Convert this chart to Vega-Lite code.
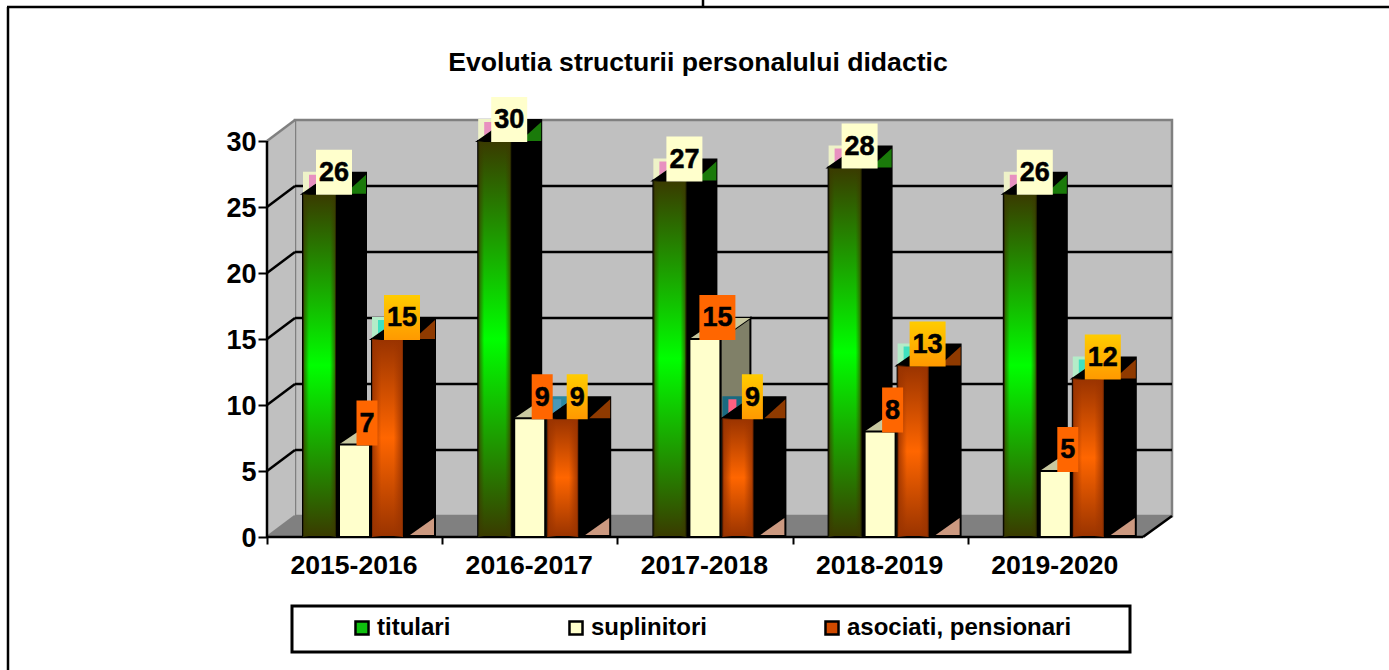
{
"$schema":"https://vega.github.io/schema/vega-lite/v6.json",
"width":1389,"height":670,"padding":0,"autosize":{"type":"none"},"background":"white",
"title":{"text":"Evolutia structurii personalului didactic","font":"Liberation Sans","fontSize":26.6,"fontWeight":"bold","color":"black","anchor":"middle","offset":-99,"dx":3.5,"baseline":"alphabetic"},
"config":{"view":{"stroke":null},"font":"Liberation Sans"},
"datasets":{"bars":[
{"season":"2015-2016","series":"titulari","value":26},{"season":"2015-2016","series":"suplinitori","value":7},{"season":"2015-2016","series":"asociati, pensionari","value":15},
{"season":"2016-2017","series":"titulari","value":30},{"season":"2016-2017","series":"suplinitori","value":9},{"season":"2016-2017","series":"asociati, pensionari","value":9},
{"season":"2017-2018","series":"titulari","value":27},{"season":"2017-2018","series":"suplinitori","value":15},{"season":"2017-2018","series":"asociati, pensionari","value":9},
{"season":"2018-2019","series":"titulari","value":28},{"season":"2018-2019","series":"suplinitori","value":8},{"season":"2018-2019","series":"asociati, pensionari","value":13},
{"season":"2019-2020","series":"titulari","value":26},{"season":"2019-2020","series":"suplinitori","value":5},{"season":"2019-2020","series":"asociati, pensionari","value":12}
]},
"data":{"name":"bars"},
"transform":[
{"calculate":"indexof(['2015-2016','2016-2017','2017-2018','2018-2019','2019-2020'],datum.season)","as":"i"},
{"calculate":"indexof(['titulari','suplinitori','asociati, pensionari'],datum.series)","as":"s"},
{"calculate":"[36,72,105][datum.s]","as":"b"},
{"calculate":"[33,31,31][datum.s]","as":"w"}
],
"encoding":{
"x":{"field":"px","type":"quantitative","scale":{"domain":[-1.52397,6.40411],"nice":false,"zero":false},
 "axis":{"values":[0,1,2,3,4],"orient":"bottom","offset":-133,"title":null,"grid":false,"domain":false,"tickColor":"black","tickWidth":2,"tickSize":7,"labelOffset":86.5,"labelExpr":"['2015-2016','2016-2017','2017-2018','2018-2019','2019-2020'][datum.value]","labelFont":"Liberation Sans","labelFontWeight":"bold","labelFontSize":26.6,"labelColor":"black","labelPadding":8,"labelFlush":false,"labelOverlap":false,"labelBound":false}},
"y":{"field":"py","type":"quantitative","stack":null,"scale":{"domain":[-10.0758,40.6818],"nice":false,"zero":false},
 "axis":{"values":[0,5,10,15,20,25,30],"orient":"left","offset":-267,"title":null,"grid":false,"domain":false,"tickColor":"black","tickWidth":2,"tickSize":9,"labelFont":"Liberation Sans","labelFontWeight":"bold","labelFontSize":27,"labelColor":"black","labelPadding":2,"labelOffset":1.5,"labelOverlap":false,"labelBound":false}}
},
"layer":[
{"data":{"values":[{"a":0},{"a":1},{"a":2}]},"transform":[
 {"calculate":"([7,8,703][datum.a]-267)/175.2","as":"px"},{"calculate":"([1389,8,703][datum.a]-267)/175.2","as":"px2"},
 {"calculate":"(537-[7,7,0][datum.a])/13.2","as":"py"},{"calculate":"(537-[7,670,7][datum.a])/13.2","as":"py2"}],
 "mark":{"type":"rule","color":"black","strokeWidth":2.5},"encoding":{"x2":{"field":"px2"},"y2":{"field":"py2"}}},
{"data":{"values":[{"wall":"back"}]},"transform":[
 {"calculate":"28/175.2","as":"px"},{"calculate":"905/175.2","as":"px2"},{"calculate":"21/13.2","as":"py"},{"calculate":"417/13.2","as":"py2"}],
 "mark":{"type":"rect","fill":"#c0c0c0","stroke":"#808080","strokeWidth":2.5},"encoding":{"x2":{"field":"px2"},"y2":{"field":"py2"}}},
{"data":{"values":[{"k":0},{"k":1}]},"transform":[
 {"calculate":"[0,28][datum.k]/175.2","as":"px"},{"calculate":"[396,417][datum.k]/13.2","as":"py"},{"calculate":"[0,21][datum.k]/13.2","as":"py2"}],
 "mark":{"type":"area","orient":"vertical","color":"#c0c0c0"},"encoding":{"y2":{"field":"py2"}}},
{"data":{"values":[{"k":0},{"k":1},{"k":2},{"k":3}]},"transform":[
 {"calculate":"[0,28,876,905][datum.k]/175.2","as":"px"},{"calculate":"[0,21,21,21][datum.k]/13.2","as":"py"},{"calculate":"[0,0,0,21][datum.k]/13.2","as":"py2"}],
 "mark":{"type":"area","orient":"vertical","color":"#808080"},"encoding":{"y2":{"field":"py2"}}},
{"data":{"values":[{"tick":5},{"tick":10},{"tick":15},{"tick":20},{"tick":25}]},"transform":[
 {"calculate":"28/175.2","as":"px"},{"calculate":"905/175.2","as":"px2"},{"calculate":"datum.tick+21/13.2","as":"py"},{"calculate":"datum.tick+21/13.2","as":"py2"}],
 "mark":{"type":"rule","color":"black","strokeWidth":2.5},"encoding":{"x2":{"field":"px2"},"y2":{"field":"py2"}}},
{"data":{"values":[{"tick":5},{"tick":10},{"tick":15},{"tick":20},{"tick":25}]},"transform":[
 {"calculate":"0","as":"px"},{"calculate":"28/175.2","as":"px2"},{"calculate":"datum.tick","as":"py"},{"calculate":"datum.tick+21/13.2","as":"py2"}],
 "mark":{"type":"rule","color":"black","strokeWidth":2.5},"encoding":{"x2":{"field":"px2"},"y2":{"field":"py2"}}},
{"data":{"values":[{"tick":30},{"tick":0}]},"transform":[
 {"calculate":"0","as":"px"},{"calculate":"28/175.2","as":"px2"},{"calculate":"datum.tick","as":"py"},{"calculate":"datum.tick+21/13.2","as":"py2"}],
 "mark":{"type":"rule","color":"#808080","strokeWidth":2.5},"encoding":{"x2":{"field":"px2"},"y2":{"field":"py2"}}},
{"data":{"values":[{"a":0},{"a":1},{"a":2}]},"transform":[
 {"calculate":"[0,0,876][datum.a]/175.2","as":"px"},{"calculate":"[876,0,905][datum.a]/175.2","as":"px2"},
 {"calculate":"[0,0,0][datum.a]/13.2","as":"py"},{"calculate":"[0,396,21][datum.a]/13.2","as":"py2"}],
 "mark":{"type":"rule","color":"black","strokeWidth":2.5},"encoding":{"x2":{"field":"px2"},"y2":{"field":"py2"}}},
{"data":{"values":[{"box":"legend"}]},"transform":[
 {"calculate":"25/175.2","as":"px"},{"calculate":"863/175.2","as":"px2"},{"calculate":"-69/13.2","as":"py"},{"calculate":"-115/13.2","as":"py2"}],
 "mark":{"type":"rect","fill":"white","stroke":"black","strokeWidth":3},"encoding":{"x2":{"field":"px2"},"y2":{"field":"py2"}}},

{"transform":[{"calculate":"datum.i+datum.b/175.2","as":"px"},{"calculate":"datum.i+(datum.b+datum.w)/175.2","as":"px2"},{"calculate":"datum.value","as":"py"},{"calculate":"0","as":"py2"}],
 "mark":{"type":"rect"},
 "encoding":{"x2":{"field":"px2"},"y2":{"field":"py2"},
  "color":{"field":"series","type":"nominal","scale":{"domain":["titulari","suplinitori","asociati, pensionari"],"range":["#0fc00f","#ffffcc","#d04a00"]},
  "legend":{"orient":"none","legendX":350,"legendY":616,"direction":"horizontal","columns":3,"title":null,"symbolType":"square","symbolSize":170,"symbolStrokeColor":"black","symbolStrokeWidth":2.5,"labelFont":"Liberation Sans","labelFontWeight":"bold","labelFontSize":24,"labelColor":"black","labelOffset":3,"columnPadding":113,"padding":0,"labelLimit":400}}}},

{"transform":[{"filter":"datum.s==0"},{"calculate":"[0,1]","as":"k"},{"flatten":["k"]},{"calculate":"datum.i+(datum.b+[0,26][datum.k])/175.2","as":"px"},{"calculate":"datum.value+22/13.2","as":"py"},{"calculate":"datum.value+[0,20][datum.k]/13.2","as":"py2"}],
 "mark":{"type":"area","orient":"vertical","color":"#eef2c8"},
 "encoding":{"detail":{"field":"season"},"y2":{"field":"py2"}}},
{"transform":[{"filter":"datum.s==0"},{"calculate":"[0,1]","as":"k"},{"flatten":["k"]},{"calculate":"datum.i+(datum.b+[6,14][datum.k])/175.2","as":"px"},{"calculate":"datum.value+19/13.2","as":"py"},{"calculate":"datum.value+[5,11][datum.k]/13.2","as":"py2"}],
 "mark":{"type":"area","orient":"vertical","color":"#e890c0"},
 "encoding":{"detail":{"field":"season"},"y2":{"field":"py2"}}},
{"transform":[{"filter":"datum.s==0"},{"calculate":"[0,1]","as":"k"},{"flatten":["k"]},{"calculate":"datum.i+(datum.b+[0,30][datum.k])/175.2","as":"px"},{"calculate":"datum.value+[0,21][datum.k]/13.2","as":"py"},{"calculate":"datum.value","as":"py2"}],
 "mark":{"type":"area","orient":"vertical","color":"black","stroke":"black","strokeWidth":2},
 "encoding":{"detail":{"field":"season"},"y2":{"field":"py2"}}},
{"transform":[{"filter":"datum.s==0"},{"calculate":"datum.i+(datum.b+30)/175.2","as":"px"},{"calculate":"datum.i+(datum.b+63)/175.2","as":"px2"},{"calculate":"datum.value+21/13.2","as":"py"},{"calculate":"0","as":"py2"}],
 "mark":{"type":"rect","fill":"black","stroke":"black","strokeWidth":2},"encoding":{"x2":{"field":"px2"},"y2":{"field":"py2"}}},
{"transform":[{"filter":"datum.s==0"},{"calculate":"[0,1]","as":"k"},{"flatten":["k"]},{"calculate":"datum.i+(datum.b+[42,63][datum.k])/175.2","as":"px"},{"calculate":"datum.value+[0,19][datum.k]/13.2","as":"py"},{"calculate":"datum.value","as":"py2"}],
 "mark":{"type":"area","orient":"vertical","color":"#1a7a0a"},
 "encoding":{"detail":{"field":"season"},"y2":{"field":"py2"}}},

{"transform":[{"filter":"datum.s==1"},{"calculate":"[0,1]","as":"k"},{"flatten":["k"]},{"calculate":"datum.i+(datum.b+[31,61][datum.k])/175.2","as":"px"},{"calculate":"datum.value+[0,21][datum.k]/13.2","as":"py"},{"calculate":"0","as":"py2"}],
 "mark":{"type":"area","orient":"vertical","color":"#808068","stroke":"black","strokeWidth":2},
 "encoding":{"detail":{"field":"season"},"y2":{"field":"py2"}}},
{"transform":[{"filter":"datum.s==1"},{"calculate":"[0,1,2]","as":"k"},{"flatten":["k"]},{"calculate":"datum.i+(datum.b+[0,31,61][datum.k])/175.2","as":"px"},{"calculate":"datum.value+[0,21,21][datum.k]/13.2","as":"py"},{"calculate":"datum.value+[0,0,21][datum.k]/13.2","as":"py2"}],
 "mark":{"type":"area","orient":"vertical","color":"#c8c8a0"},
 "encoding":{"detail":{"field":"season"},"y2":{"field":"py2"}}},

{"transform":[{"filter":"datum.s==2"},{"calculate":"[0,1]","as":"k"},{"flatten":["k"]},{"calculate":"datum.i+(datum.b+[0,26][datum.k])/175.2","as":"px"},{"calculate":"datum.value+22/13.2","as":"py"},{"calculate":"datum.value+[0,20][datum.k]/13.2","as":"py2"}],
 "mark":{"type":"area","orient":"vertical"},
 "encoding":{"detail":{"field":"season"},"y2":{"field":"py2"},"fill":{"condition":[{"test":"datum.i==1","value":"#2a88a0"},{"test":"datum.i==2","value":"#1a6a80"}],"value":"#b4ecc8"}}},
{"transform":[{"filter":"datum.s==2"},{"calculate":"[0,1]","as":"k"},{"flatten":["k"]},{"calculate":"datum.i+(datum.b+[6,14][datum.k])/175.2","as":"px"},{"calculate":"datum.value+19/13.2","as":"py"},{"calculate":"datum.value+[5,11][datum.k]/13.2","as":"py2"}],
 "mark":{"type":"area","orient":"vertical"},
 "encoding":{"detail":{"field":"season"},"y2":{"field":"py2"},"fill":{"condition":[{"test":"datum.i==1","value":"#4a98b8"},{"test":"datum.i==2","value":"#ff6080"}],"value":"#40e0c0"}}},
{"transform":[{"filter":"datum.s==2"},{"calculate":"[0,1]","as":"k"},{"flatten":["k"]},{"calculate":"datum.i+(datum.b+[0,30][datum.k])/175.2","as":"px"},{"calculate":"datum.value+[0,21][datum.k]/13.2","as":"py"},{"calculate":"datum.value","as":"py2"}],
 "mark":{"type":"area","orient":"vertical","color":"black","stroke":"black","strokeWidth":2},
 "encoding":{"detail":{"field":"season"},"y2":{"field":"py2"}}},
{"transform":[{"filter":"datum.s==2"},{"calculate":"datum.i+(datum.b+30)/175.2","as":"px"},{"calculate":"datum.i+(datum.b+63)/175.2","as":"px2"},{"calculate":"datum.value+21/13.2","as":"py"},{"calculate":"0","as":"py2"}],
 "mark":{"type":"rect","fill":"black","stroke":"black","strokeWidth":2},"encoding":{"x2":{"field":"px2"},"y2":{"field":"py2"}}},
{"transform":[{"filter":"datum.s==2"},{"calculate":"[0,1]","as":"k"},{"flatten":["k"]},{"calculate":"datum.i+(datum.b+[42,63][datum.k])/175.2","as":"px"},{"calculate":"datum.value+[0,19][datum.k]/13.2","as":"py"},{"calculate":"datum.value","as":"py2"}],
 "mark":{"type":"area","orient":"vertical","color":"#8f3a00"},
 "encoding":{"detail":{"field":"season"},"y2":{"field":"py2"}}},
{"transform":[{"filter":"datum.s==2"},{"calculate":"[0,1]","as":"k"},{"flatten":["k"]},{"calculate":"datum.i+(datum.b+[38,62][datum.k])/175.2","as":"px"},{"calculate":"[2,19][datum.k]/13.2","as":"py"},{"calculate":"2/13.2","as":"py2"}],
 "mark":{"type":"area","orient":"vertical","color":"#cc9980"},
 "encoding":{"detail":{"field":"season"},"y2":{"field":"py2"}}},

{"transform":[{"filter":"datum.s==0"},{"calculate":"datum.i+datum.b/175.2","as":"px"},{"calculate":"datum.i+(datum.b+datum.w)/175.2","as":"px2"},{"calculate":"datum.value","as":"py"},{"calculate":"0","as":"py2"}],
 "mark":{"type":"rect","stroke":"black","strokeWidth":2,"fill":{"gradient":"linear","x1":0,"y1":0,"x2":0,"y2":1,"stops":[{"offset":0,"color":"#3a3a00"},{"offset":0.5,"color":"#00ff00"},{"offset":1,"color":"#3a3a00"}]}},
 "encoding":{"x2":{"field":"px2"},"y2":{"field":"py2"}}},
{"transform":[{"filter":"datum.s==1"},{"calculate":"datum.i+datum.b/175.2","as":"px"},{"calculate":"datum.i+(datum.b+datum.w)/175.2","as":"px2"},{"calculate":"datum.value","as":"py"},{"calculate":"0","as":"py2"}],
 "mark":{"type":"rect","stroke":"black","strokeWidth":2,"fill":"#ffffcc"},
 "encoding":{"x2":{"field":"px2"},"y2":{"field":"py2"}}},
{"transform":[{"filter":"datum.s==2"},{"calculate":"datum.i+datum.b/175.2","as":"px"},{"calculate":"datum.i+(datum.b+datum.w)/175.2","as":"px2"},{"calculate":"datum.value","as":"py"},{"calculate":"0","as":"py2"}],
 "mark":{"type":"rect","stroke":"black","strokeWidth":2,"fill":{"gradient":"linear","x1":0,"y1":0,"x2":0,"y2":1,"stops":[{"offset":0,"color":"#993300"},{"offset":0.5,"color":"#ff6600"},{"offset":1,"color":"#993300"}]}},
 "encoding":{"x2":{"field":"px2"},"y2":{"field":"py2"}}},
{"transform":[{"filter":"datum.s==0"},{"calculate":"datum.i+datum.b/175.2","as":"px"},{"calculate":"datum.i+(datum.b+datum.w)/175.2","as":"px2"},{"calculate":"datum.value","as":"py"},{"calculate":"0","as":"py2"}],
 "mark":{"type":"rect","fill":{"gradient":"linear","x1":0,"y1":0,"x2":1,"y2":0,"stops":[{"offset":0,"color":"rgba(58,58,0,0.8)"},{"offset":0.18,"color":"rgba(58,58,0,0)"},{"offset":0.82,"color":"rgba(58,58,0,0)"},{"offset":1,"color":"rgba(58,58,0,0.8)"}]}},
 "encoding":{"x2":{"field":"px2"},"y2":{"field":"py2"}}},
{"transform":[{"filter":"datum.s==2"},{"calculate":"datum.i+datum.b/175.2","as":"px"},{"calculate":"datum.i+(datum.b+datum.w)/175.2","as":"px2"},{"calculate":"datum.value","as":"py"},{"calculate":"0","as":"py2"}],
 "mark":{"type":"rect","fill":{"gradient":"linear","x1":0,"y1":0,"x2":1,"y2":0,"stops":[{"offset":0,"color":"rgba(153,51,0,0.9)"},{"offset":0.3,"color":"rgba(153,51,0,0)"},{"offset":0.7,"color":"rgba(153,51,0,0)"},{"offset":1,"color":"rgba(153,51,0,0.9)"}]}},
 "encoding":{"x2":{"field":"px2"},"y2":{"field":"py2"}}},

{"transform":[{"filter":"datum.s==0"},{"calculate":"(datum.value>=10?36:21)","as":"bw"},{"calculate":"datum.i+(67-datum.bw/2)/175.2","as":"px"},{"calculate":"datum.i+(67+datum.bw/2)/175.2","as":"px2"},{"calculate":"datum.value-1/13.2","as":"py2"},{"calculate":"datum.value+44/13.2","as":"py"}],
 "mark":{"type":"rect","fill":"#ffffcc"},"encoding":{"x2":{"field":"px2"},"y2":{"field":"py2"}}},
{"transform":[{"filter":"datum.s==1"},{"calculate":"(datum.value>=10?36:21)","as":"bw"},{"calculate":"datum.i+(100-datum.bw/2)/175.2","as":"px"},{"calculate":"datum.i+(100+datum.bw/2)/175.2","as":"px2"},{"calculate":"datum.value-1/13.2","as":"py2"},{"calculate":"datum.value+44/13.2","as":"py"}],
 "mark":{"type":"rect","fill":"#ff6600"},"encoding":{"x2":{"field":"px2"},"y2":{"field":"py2"}}},
{"transform":[{"filter":"datum.s==2"},{"calculate":"(datum.value>=10?36:21)","as":"bw"},{"calculate":"datum.i+(135-datum.bw/2)/175.2","as":"px"},{"calculate":"datum.i+(135+datum.bw/2)/175.2","as":"px2"},{"calculate":"datum.value-1/13.2","as":"py2"},{"calculate":"datum.value+44/13.2","as":"py"}],
 "mark":{"type":"rect","fill":{"gradient":"linear","x1":0,"y1":0,"x2":0,"y2":1,"stops":[{"offset":0,"color":"#ffcc00"},{"offset":1,"color":"#ff9900"}]}},"encoding":{"x2":{"field":"px2"},"y2":{"field":"py2"}}},
{"transform":[{"calculate":"datum.i+[67,100,135][datum.s]/175.2","as":"px"},{"calculate":"datum.value+20.5/13.2","as":"py"}],
 "mark":{"type":"text","font":"Liberation Sans","fontWeight":"bold","fontSize":27,"color":"black","stroke":"black","strokeWidth":0.5,"baseline":"middle","align":"center"},
 "encoding":{"text":{"field":"value","type":"quantitative"}}}
]
}
